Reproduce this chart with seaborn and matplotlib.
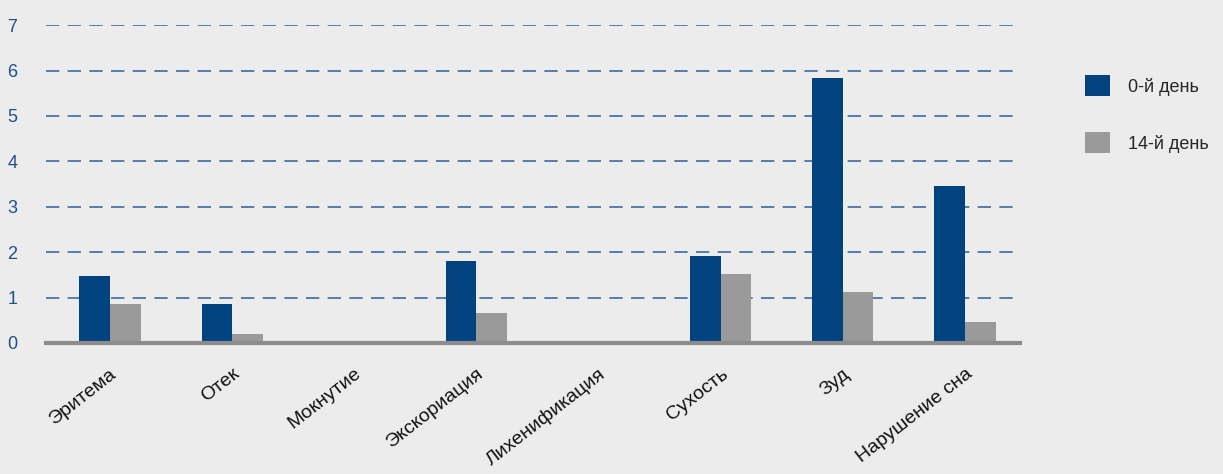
import matplotlib
matplotlib.use("Agg")
import matplotlib.pyplot as plt
import seaborn as sns
import pandas as pd
from matplotlib.patches import Patch

categories = ["Эритема", "Отек", "Мокнутие", "Экскориация", "Лихенификация",
              "Сухость", "Зуд", "Нарушение сна"]
day0 = [1.48, 0.86, 0.0, 1.80, 0.0, 1.92, 5.84, 3.46]
day14 = [0.86, 0.20, 0.0, 0.66, 0.0, 1.52, 1.12, 0.46]
series_names = ["0-й день", "14-й день"]
yticks = [0, 1, 2, 3, 4, 5, 6, 7]

bg = "#ececec"
blue = "#00437f"
gray = "#9a9a9a"

sns.set_theme(style="white")
plt.rcParams["font.family"] = ["Liberation Sans Narrow", "Liberation Sans", "DejaVu Sans"]

df = pd.DataFrame({
    "cat": categories * 2,
    "val": day0 + day14,
    "series": [series_names[0]] * len(categories) + [series_names[1]] * len(categories),
})

fig = plt.figure(figsize=(12.23, 4.74), dpi=100, facecolor=bg)
ax = fig.add_axes([0.038, 0.2764, 0.796, 0.6706])
ax.set_facecolor(bg)

sns.barplot(data=df, x="cat", y="val", hue="series", order=categories,
            hue_order=series_names, palette=[blue, gray], width=0.5,
            saturation=1, ax=ax, legend=False, zorder=3, linewidth=0)

ax.set_ylim(0, 7)
ax.set_xlim(-0.52, 7.45)
ax.set_yticks(yticks)
ax.set_yticklabels([str(t) for t in yticks], color="#1f4f8f", fontsize=13)
for t in yticks[1:]:
    ax.axhline(t, color="#3f6a9e", lw=1.2, ls=(0, (8, 5)), zorder=1)

for s in ["top", "right", "left"]:
    ax.spines[s].set_visible(False)
ax.spines["bottom"].set_color("#8c8c8c")
ax.spines["bottom"].set_linewidth(3)
ax.spines["bottom"].set_zorder(4)
ax.tick_params(axis="both", length=0)
ax.tick_params(axis="y", pad=34)
ax.set_xlabel("")
ax.set_ylabel("")
ax.set_xticks(range(len(categories)))
ax.set_xticklabels(categories, rotation=38, ha="right", rotation_mode="anchor",
                   fontsize=14, color="#111111")
ax.tick_params(axis="x", pad=16)
for lbl in ax.get_yticklabels():
    lbl.set_horizontalalignment("left")
    lbl.set_x(-0.003)
ax.yaxis.set_tick_params(pad=26)

handles = [Patch(facecolor=blue, edgecolor="none"), Patch(facecolor=gray, edgecolor="none")]
fig.legend(handles, series_names, loc="upper left", bbox_to_anchor=(0.874, 0.875),
           frameon=False, fontsize=13, handlelength=1.4, handleheight=1.4,
           handletextpad=1.0, labelspacing=2.0)

fig.savefig("out.png", dpi=100, facecolor=bg)
